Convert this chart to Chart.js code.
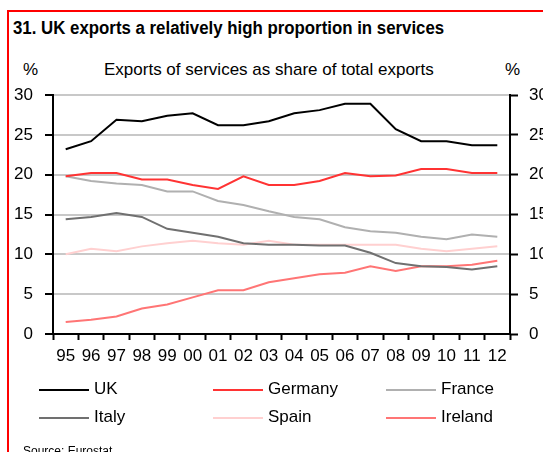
<!DOCTYPE html>
<html lang="en">
<head>
<meta charset="UTF-8">
<title>UK exports of services</title>
<script src="https://cdn.jsdelivr.net/npm/chart.js"></script>
<style>
  html, body { margin: 0; padding: 0; background: #fff; overflow: hidden; }
  body { width: 543px; height: 452px; position: relative; font-family: "Liberation Sans", Arial, sans-serif; color: #000; }
  #frame { position: absolute; left: 7px; top: 10px; width: 600px; height: 500px; border: 2px solid #ff0000; }
  #title { position: absolute; left: 13px; top: 18px; font-weight: bold; font-size: 18px; white-space: nowrap;
           transform: scaleX(0.935); transform-origin: left top; }
  .top { position: absolute; top: 60px; font-size: 17px; white-space: nowrap; }
  #wrap { position: absolute; left: 0; top: 0; width: 560px; height: 452px; }
  .leg { position: absolute; font-size: 17px; white-space: nowrap; }
  .leg span { display: inline-block; width: 50px; height: 2px; vertical-align: middle; margin-right: 5px; }
  #source { position: absolute; left: 23px; top: 444px; font-size: 12px; }
</style>
</head>
<body>
<div id="frame"></div>
<div id="title">31. UK exports a relatively high proportion in services</div>
<div class="top" style="left:23px">%</div>
<div class="top" style="left:104px">Exports of services as share of total exports</div>
<div class="top" style="left:505px">%</div>
<div id="wrap"><canvas id="chart" width="560" height="452"></canvas></div>
<div id="legend"></div>
<div id="source">Source: Eurostat</div>
<script>
const years = ['95','96','97','98','99','00','01','02','03','04','05','06','07','08','09','10','11','12'];
const uk      = [23.2, 24.2, 26.9, 26.7, 27.4, 27.7, 26.2, 26.2, 26.7, 27.7, 28.1, 28.9, 28.9, 25.7, 24.2, 24.2, 23.7, 23.7];
const germany = [19.8, 20.2, 20.2, 19.4, 19.4, 18.7, 18.2, 19.8, 18.7, 18.7, 19.2, 20.2, 19.8, 19.9, 20.7, 20.7, 20.2, 20.2];
const france  = [19.8, 19.2, 18.9, 18.7, 17.9, 17.9, 16.7, 16.2, 15.4, 14.7, 14.4, 13.4, 12.9, 12.7, 12.2, 11.9, 12.5, 12.2];
const italy   = [14.4, 14.7, 15.2, 14.7, 13.2, 12.7, 12.2, 11.4, 11.2, 11.2, 11.1, 11.1, 10.2, 8.9, 8.5, 8.4, 8.1, 8.5];
const spain   = [10.0, 10.7, 10.4, 11.0, 11.4, 11.7, 11.4, 11.2, 11.7, 11.2, 11.2, 11.2, 11.2, 11.2, 10.7, 10.4, 10.7, 11.0];
const ireland = [1.5, 1.8, 2.2, 3.2, 3.7, 4.6, 5.5, 5.5, 6.5, 7.0, 7.5, 7.7, 8.5, 7.9, 8.5, 8.5, 8.7, 9.2];

const names  = ['UK', 'Germany', 'France', 'Italy', 'Spain', 'Ireland'];
const values = [uk, germany, france, italy, spain, ireland];
const colors = ['#000000', '#ff3333', '#b0b0b0', '#707070', '#ffd0d0', '#ff7575'];

// legend: 3 columns x 2 rows
const legend = document.getElementById('legend');
const colX = [39, 213, 386];
const rowY = [379, 407];
names.forEach((n, i) => {
  const d = document.createElement('div');
  d.className = 'leg';
  d.style.left = colX[i % 3] + 'px';
  d.style.top = rowY[Math.floor(i / 3)] + 'px';
  d.innerHTML = '<span style="background:' + colors[i] + '"></span>' + n;
  legend.appendChild(d);
});

const tickFont = { family: '"Liberation Sans", Arial, sans-serif', size: 17 };

new Chart(document.getElementById('chart'), {
  type: 'line',
  data: {
    labels: years,
    datasets: names.map((n, i) => ({
      label: n,
      data: values[i],
      borderColor: colors[i],
      borderWidth: 2,
      pointRadius: 0,
      tension: 0,
      fill: false
    }))
  },
  options: {
    responsive: false,
    animation: false,
    layout: { padding: { top: 95, bottom: 0, left: 0, right: 0 } },
    plugins: { legend: { display: false }, tooltip: { enabled: false } },
    scales: {
      x: {
        offset: true,
        grid: { offset: true, drawOnChartArea: false, tickLength: 6, tickColor: '#000', tickWidth: 2 },
        border: { color: '#000', width: 2 },
        ticks: { color: '#000', font: tickFont, padding: 6, maxRotation: 0, autoSkip: false },
        afterFit: s => { s.height = 118; }
      },
      y: {
        position: 'left',
        min: 0, max: 30,
        grid: { color: '#c8c8c8', lineWidth: 2, tickLength: 8, tickColor: '#000', tickWidth: 2 },
        border: { color: '#000', width: 2 },
        ticks: { stepSize: 5, color: '#000', font: tickFont, padding: 12 },
        afterFit: s => { s.width = 53; }
      },
      y2: {
        position: 'right',
        min: 0, max: 30,
        grid: { drawOnChartArea: false, tickLength: 8, tickColor: '#000', tickWidth: 2 },
        border: { color: '#000', width: 2 },
        ticks: { stepSize: 5, color: '#000', font: tickFont, padding: 11 },
        afterFit: s => { s.width = 50; }
      }
    }
  }
});
</script>
</body>
</html>
